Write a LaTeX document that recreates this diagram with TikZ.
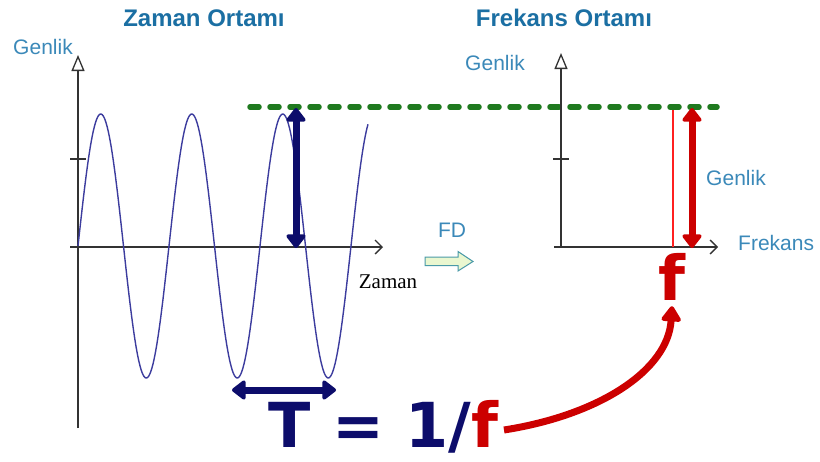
\documentclass[tikz,border=0pt]{standalone}
\usepackage{fontspec}
\setmainfont{Liberation Sans}
\newfontfamily\serifz{Liberation Serif}
\newfontfamily\heavy{DejaVu Sans}
\usetikzlibrary{arrows.meta}
\definecolor{navyc}{HTML}{0D0D6B}
\definecolor{titlec}{HTML}{1B6FA3}
\definecolor{labelc}{HTML}{3B89B9}
\definecolor{greenc}{HTML}{1F7A1F}
\definecolor{redc}{HTML}{CC0000}
\definecolor{brightred}{HTML}{FF2020}
\definecolor{sinec}{HTML}{3C3C9E}
\definecolor{axisc}{HTML}{333333}
\definecolor{fdfill}{HTML}{EAF7D0}
\definecolor{fdline}{HTML}{4A9AA8}
\tikzset{
  titletext/.style={font=\fontsize{24}{26}\selectfont\bfseries, text=titlec, inner sep=0pt},
  labeltext/.style={font=\fontsize{21}{23}\selectfont, text=labelc, inner sep=0pt},
  axisline/.style={draw=axisc, line width=1.3pt},
  yaxisarrow/.style={axisline, -{Triangle[open, length=16pt, width=13pt]}},
  xaxisarrow/.style={axisline, -{Straight Barb[length=7pt, width=14pt]}},
  bigarrow/.style={line width=7pt, {Triangle[length=15pt,width=22pt,round]}-{Triangle[length=15pt,width=22pt,round]}},
}
\begin{document}
\begin{tikzpicture}[x=1pt, y=-1pt]
\useasboundingbox (0,0) rectangle (820,461);
\fill[white] (0,0) rectangle (820,461);

% titles
\node[titletext] (t1) at (204,18) {Zaman Ortamı};
\node[titletext] (t2) at (564,18) {Frekans Ortamı};

% left axes
\coordinate (ly0) at (78,428);
\coordinate (ly1) at (78,55);
\coordinate (lx0) at (70,247);
\coordinate (lx1) at (383,247);
\draw[yaxisarrow] (ly0) -- (ly1);
\draw[xaxisarrow] (lx0) -- (lx1);
\draw[axisline] (70,159) -- (86,159);
\node[labeltext] (g1) at (43,47) {Genlik};
\node[font=\serifz\fontsize{21}{23}\selectfont, inner sep=0pt] (zaman) at (388,282) {Zaman};

% sine
\draw[sinec, line width=1.4pt, domain=78:368, samples=300, smooth]
  plot (\x, {246 - 132*sin(3.956044*(\x-78))});

% green dashed line
\coordinate (g0) at (250,107);
\coordinate (g1e) at (717,107);
\draw[greenc, line width=5.5pt, line cap=round, dash pattern=on 9pt off 11pt] (g0) -- (g1e);

% navy vertical arrow
\coordinate (na0) at (296,108);
\coordinate (na1) at (296,248);
\draw[navyc, bigarrow] (na0) -- (na1);

% navy horizontal arrow
\coordinate (nh0) at (232,390);
\coordinate (nh1) at (336,390);
\draw[navyc, bigarrow] (nh0) -- (nh1);

% FD block arrow
\node[labeltext] (fd) at (452,230) {FD};
\draw[fdline, fill=fdfill, line width=1pt, line join=miter]
  (425,257) -- (458,257) -- (458,251.5) -- (473,261.5) -- (458,271) -- (458,265.5) -- (425,265.5) -- cycle;

% right axes
\coordinate (ry0) at (561,247);
\coordinate (ry1) at (561,53);
\coordinate (rx0) at (554,247);
\coordinate (rx1) at (718,247);
\draw[yaxisarrow] (ry0) -- (ry1);
\draw[xaxisarrow] (rx0) -- (rx1);
\draw[axisline] (553,159) -- (569,159);
\node[labeltext] (g2) at (495,63) {Genlik};
\node[labeltext] (g3) at (736,178) {Genlik};
\node[labeltext, anchor=west] (frek) at (738,243) {Frekans};

% red spectral line and amplitude arrow
\coordinate (rl0) at (673,110);
\coordinate (rl1) at (673,247);
\draw[brightred, line width=2pt] (rl0) -- (rl1);
\coordinate (ra0) at (692,108);
\coordinate (ra1) at (692,248);
\draw[redc, bigarrow] (ra0) -- (ra1);

% f label
\node[font=\heavy\bfseries\fontsize{62}{64}\selectfont, text=redc, inner sep=0pt, anchor=base] (fr) at (672,300) {f};

% formula
\node[font=\heavy\bfseries\fontsize{62}{64}\selectfont, inner sep=0pt, anchor=base west] (formula) at (268,447)
  {\textcolor{navyc}{T = 1/}\textcolor{redc}{f}};

% red curved arrow
\coordinate (c0) at (504,430);
\draw[redc, line width=7pt, -{Triangle[length=17pt,width=22pt,round]}]
  (c0) .. controls (600,415) and (668,370) .. ([yshift=-6pt]fr.south);
\end{tikzpicture}
\end{document}
